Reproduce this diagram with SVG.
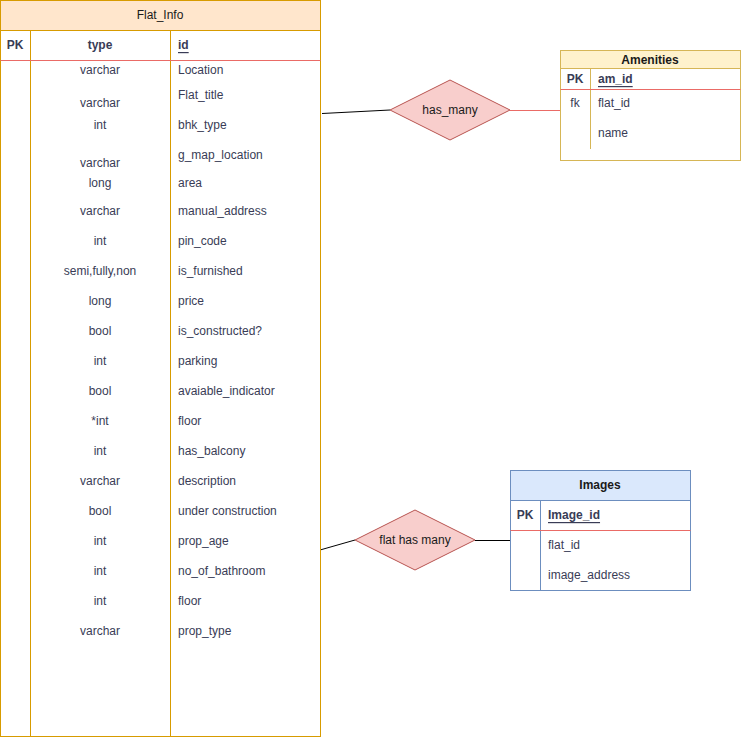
<svg xmlns="http://www.w3.org/2000/svg" width="741" height="738" viewBox="0 0 741 738">
<style>
text{font-family:"Liberation Sans",Arial,sans-serif;font-size:12px;fill:#393C56;dominant-baseline:central}
.c{text-anchor:middle}
.b{font-weight:bold}
.u{text-decoration:underline}
.t{fill:#1a1a1a}
.or{stroke:#d79b00;fill:none}
.ye{stroke:#d6b656;fill:none}
.bl{stroke:#6c8ebf;fill:none}
.red{stroke:#EA6B66;fill:none}
.dia{fill:#f8cecc;stroke:#b85450}
</style>
<rect width="741" height="738" fill="#fff"/>
<g id="connectors" fill="none">
<path d="M322 113.5 L390 110" stroke="#000"/>
<path d="M510 110.5 L560 110.5" class="red"/>
<path d="M320 550 L355 540" stroke="#000"/>
<path d="M475 540.5 L510 540.5" stroke="#000"/>
</g>
<g id="flat_info">
<rect x="0.5" y="0.5" width="320" height="736" fill="#fff" stroke="#d79b00"/>
<rect x="0.5" y="0.5" width="320" height="30" fill="#ffe6cc" stroke="#d79b00"/>
<line x1="30.5" y1="30.5" x2="30.5" y2="736.5" class="or"/>
<line x1="170.5" y1="30.5" x2="170.5" y2="736.5" class="or"/>
<line x1="0.5" y1="60.5" x2="320.5" y2="60.5" class="red"/>
<text x="160" y="15" class="c t" font-size="12">Flat_Info</text>
<text x="15" y="45" class="c b">PK</text>
<text x="100" y="45" class="c b">type</text>
<text x="178" y="45" class="b u">id</text>
<g class="c">
<text x="100" y="70">varchar</text>
<text x="100" y="103">varchar</text>
<text x="100" y="125">int</text>
<text x="100" y="163">varchar</text>
<text x="100" y="183">long</text>
<text x="100" y="211">varchar</text>
<text x="100" y="241">int</text>
<text x="100" y="271">semi,fully,non</text>
<text x="100" y="301">long</text>
<text x="100" y="331">bool</text>
<text x="100" y="361">int</text>
<text x="100" y="391">bool</text>
<text x="100" y="421">*int</text>
<text x="100" y="451">int</text>
<text x="100" y="481">varchar</text>
<text x="100" y="511">bool</text>
<text x="100" y="541">int</text>
<text x="100" y="571">int</text>
<text x="100" y="601">int</text>
<text x="100" y="631">varchar</text>
</g>
<text x="178" y="70">Location</text>
<text x="178" y="95">Flat_title</text>
<text x="178" y="125">bhk_type</text>
<text x="178" y="155">g_map_location</text>
<text x="178" y="183">area</text>
<text x="178" y="211">manual_address</text>
<text x="178" y="241">pin_code</text>
<text x="178" y="271">is_furnished</text>
<text x="178" y="301">price</text>
<text x="178" y="331">is_constructed?</text>
<text x="178" y="361">parking</text>
<text x="178" y="391">avaiable_indicator</text>
<text x="178" y="421">floor</text>
<text x="178" y="451">has_balcony</text>
<text x="178" y="481">description</text>
<text x="178" y="511">under construction</text>
<text x="178" y="541">prop_age</text>
<text x="178" y="571">no_of_bathroom</text>
<text x="178" y="601">floor</text>
<text x="178" y="631">prop_type</text>
</g>
<g id="has_many">
<polygon points="390,110 450,80 510,110 450,140" class="dia"/>
<text x="450" y="110" class="c t">has_many</text>
</g>
<g id="amenities">
<rect x="560.5" y="50.5" width="180" height="110" fill="#fff" stroke="#d6b656"/>
<rect x="560.5" y="50.5" width="180" height="18" fill="#fff2cc" stroke="#d6b656"/>
<line x1="590.5" y1="68.5" x2="590.5" y2="149" class="ye"/>
<line x1="560.5" y1="89.5" x2="740.5" y2="89.5" class="red"/>
<text x="650" y="59.5" class="c b t">Amenities</text>
<text x="575" y="79" class="c b">PK</text>
<text x="598" y="79" class="b u">am_id</text>
<text x="575" y="103" class="c">fk</text>
<text x="598" y="103">flat_id</text>
<text x="598" y="133">name</text>
</g>
<g id="flat_has_many">
<polygon points="355,540 415,510 475,540 415,570" class="dia"/>
<text x="415" y="540" class="c t">flat has many</text>
</g>
<g id="images">
<rect x="510.5" y="470.5" width="180" height="120" fill="#fff" stroke="#6c8ebf"/>
<rect x="510.5" y="470.5" width="180" height="30" fill="#dae8fc" stroke="#6c8ebf"/>
<line x1="540.5" y1="500.5" x2="540.5" y2="590.5" class="bl"/>
<line x1="510.5" y1="530.5" x2="690.5" y2="530.5" class="red"/>
<text x="600" y="485" class="c b t">Images</text>
<text x="525" y="515" class="c b">PK</text>
<text x="548" y="515" class="b u">Image_id</text>
<text x="548" y="545">flat_id</text>
<text x="548" y="575">image_address</text>
</g>
</svg>
